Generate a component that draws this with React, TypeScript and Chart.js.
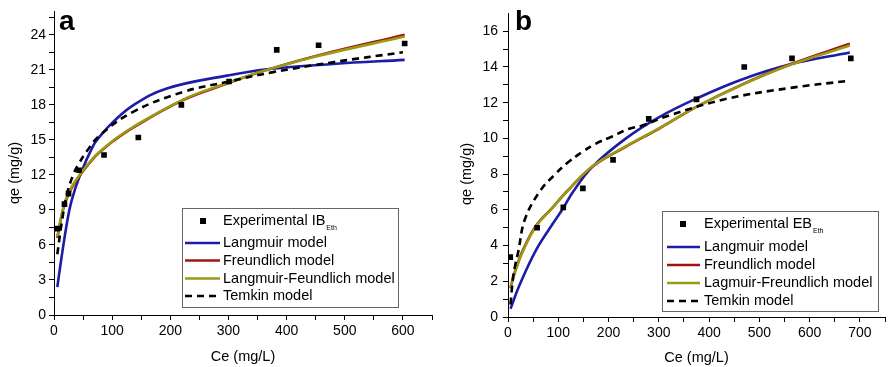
import React, { useEffect, useRef } from "react";
import { Chart, registerables } from "chart.js";
Chart.register(...registerables);

const FONT = "'Liberation Sans', Arial, sans-serif";

// ---------- Panel a data ----------
const aExpX = [6, 18, 25, 43, 86, 145, 219, 301, 383, 455, 603];
const aExpY = [7.4, 9.5, 10.4, 12.4, 13.7, 15.2, 18.0, 20.0, 22.7, 23.1, 23.25];
const aLangX = [5.7, 13, 22, 30, 45, 67.5, 79, 100, 136, 194, 297, 366, 480, 603];
const aLangY = [2.4, 4.95, 7.8, 9.76, 12.0, 14.5, 15.3, 16.45, 17.95, 19.4, 20.5, 21.05, 21.5, 21.85];
const aFreuX = [5.7, 16, 27.5, 45, 67.5, 79, 102, 136, 222, 297, 354, 452, 603];
const aFreuY = [6.6, 9.1, 10.6, 12.0, 13.4, 13.95, 14.9, 16.05, 18.4, 19.8, 20.8, 22.2, 24.0];
const aLFX = [5.7, 16, 27.5, 45, 67.5, 79, 102, 136, 222, 297, 354, 452, 603];
const aLFY = [6.7, 9.2, 10.7, 12.05, 13.45, 14.0, 14.95, 16.1, 18.45, 19.85, 20.8, 22.15, 23.85];
const aTemX = [5.7, 13, 22, 33, 42, 56, 79, 136, 222, 297, 377, 480, 600];
const aTemY = [5.2, 7.8, 10.3, 12.0, 12.9, 14.0, 15.4, 17.4, 19.1, 19.95, 20.8, 21.65, 22.5];
const aXTicks = [0, 50, 100, 150, 200, 250, 300, 350, 400, 450, 500, 550, 600, 650];
const aXLabels = [0, 100, 200, 300, 400, 500, 600];
const aYTicks = [0, 1.5, 3, 4.5, 6, 7.5, 9, 10.5, 12, 13.5, 15, 16.5, 18, 19.5, 21, 22.5, 24, 25.5];
const aYLabels = [0, 3, 6, 9, 12, 15, 18, 21, 24];

// ---------- Panel b data ----------
const bExpX = [4.5, 58, 110, 149, 209, 280, 375, 470, 565, 682];
const bExpY = [3.35, 5.0, 6.14, 7.2, 8.8, 11.09, 12.19, 14.0, 14.48, 14.48];
const bLangX = [5, 23.6, 56, 89, 110, 128.5, 168.5, 234, 300, 378.5, 464, 562, 680];
const bLangY = [0.46, 1.83, 3.76, 5.22, 6.1, 6.97, 8.43, 9.99, 11.18, 12.28, 13.29, 14.15, 14.81];
const bFreuX = [5, 14, 30, 56, 89, 115, 168.5, 234, 300, 378.5, 464, 562, 680];
const bFreuY = [1.65, 2.57, 3.76, 5.13, 6.14, 6.97, 8.43, 9.53, 10.54, 11.82, 13.0, 14.15, 15.3];
const bLFX = [5, 14, 30, 56, 89, 115, 168.5, 234, 300, 378.5, 464, 562, 680];
const bLFY = [1.6, 2.5, 3.7, 5.08, 6.12, 6.97, 8.45, 9.55, 10.56, 11.82, 12.98, 14.12, 15.2];
const bTemX = [5, 10, 15, 20, 34, 64, 93, 119, 149, 175, 205, 241, 267, 319, 431, 562, 680];
const bTemY = [0.7, 2.2, 3.0, 3.6, 5.5, 7.06, 7.97, 8.65, 9.26, 9.71, 10.08, 10.54, 10.72, 11.27, 12.19, 12.83, 13.23];
const bXTicks = [0, 50, 100, 150, 200, 250, 300, 350, 400, 450, 500, 550, 600, 650, 700, 750];
const bXLabels = [0, 100, 200, 300, 400, 500, 600, 700];
const bYTicks = [0, 1, 2, 3, 4, 5, 6, 7, 8, 9, 10, 11, 12, 13, 14, 15, 16];
const bYLabels = [0, 2, 4, 6, 8, 10, 12, 14, 16];

const BLUE = "#1c1ca8";
const RED = "#9e1414";
const OLIVE = "#9a9a14";
const DASH = [7, 5];

const zip = (xs: number[], ys: number[]) => xs.map((x, i) => ({ x, y: ys[i] }));

type PanelCfg = {
  letter: string;
  letterX: number;
  expLabel: string;
  lfLabel: string;
  exp: [number[], number[]];
  lang: [number[], number[]];
  freu: [number[], number[]];
  lf: [number[], number[]];
  tem: [number[], number[]];
  xTicks: number[];
  xLabels: number[];
  yTicks: number[];
  yLabels: number[];
  xMax: number;
  yMax: number;
  yAxisWidth: number;
  xAxisHeight: number;
  padding: { left: number; right: number; top: number; bottom: number };
  yTickPad: number;
  yTitleX: number;
  yTitleY: number;
  xTitleY: number;
  legend: { x: number; y: number; w: number; h: number; rows: number[]; lineX0: number; lineX1: number; textX: number; markX: number };
};

const makeOverlay = (cfg: PanelCfg) => ({
  id: "overlay" + cfg.letter,
  afterDraw(chart: any) {
    const ctx = chart.ctx as CanvasRenderingContext2D;
    const ca = chart.chartArea;
    ctx.save();
    ctx.fillStyle = "#000";
    ctx.font = `bold 28px ${FONT}`;
    ctx.textAlign = "left";
    ctx.textBaseline = "alphabetic";
    ctx.fillText(cfg.letter, cfg.letterX, 30);
    ctx.font = `14.5px ${FONT}`;
    ctx.textAlign = "center";
    ctx.textBaseline = "middle";
    ctx.fillText("Ce (mg/L)", (ca.left + ca.right) / 2, cfg.xTitleY);
    ctx.save();
    ctx.translate(cfg.yTitleX, cfg.yTitleY);
    ctx.rotate(-Math.PI / 2);
    ctx.fillText("qe (mg/g)", 0, 0);
    ctx.restore();
    const L = cfg.legend;
    ctx.fillStyle = "#fff";
    ctx.fillRect(L.x, L.y, L.w, L.h);
    ctx.strokeStyle = "#666";
    ctx.lineWidth = 1;
    ctx.strokeRect(L.x + 0.5, L.y + 0.5, L.w, L.h);
    const items = [
      { kind: "point", label: cfg.expLabel },
      { kind: "line", color: BLUE, label: "Langmuir model" },
      { kind: "line", color: RED, label: "Freundlich model" },
      { kind: "line", color: OLIVE, label: cfg.lfLabel },
      { kind: "dash", color: "#000", label: "Temkin model" },
    ];
    items.forEach((it, i) => {
      const y = L.rows[i];
      if (it.kind === "point") {
        ctx.fillStyle = "#000";
        ctx.fillRect(L.markX - 3, y - 3, 6, 6);
      } else {
        ctx.strokeStyle = it.color as string;
        ctx.lineWidth = 2.6;
        ctx.setLineDash(it.kind === "dash" ? DASH : []);
        ctx.beginPath();
        ctx.moveTo(L.lineX0, y);
        ctx.lineTo(L.lineX1, y);
        ctx.stroke();
        ctx.setLineDash([]);
      }
      ctx.fillStyle = "#000";
      ctx.font = `14.5px ${FONT}`;
      ctx.textAlign = "left";
      ctx.textBaseline = "middle";
      ctx.fillText(it.label, L.textX, y);
      if (it.kind === "point") {
        const w = ctx.measureText(it.label).width;
        ctx.font = `7px ${FONT}`;
        ctx.fillText("Eth", L.textX + w + 1, y + 7);
      }
    });
    ctx.restore();
  },
});

function Panel({ cfg, left, width }: { cfg: PanelCfg; left: number; width: number }) {
  const ref = useRef<HTMLCanvasElement | null>(null);
  useEffect(() => {
    if (!ref.current) return;
    const lineDs = (label: string, data: any, color: string, dash: number[] = []) => ({
      type: "line" as const,
      label,
      data,
      borderColor: color,
      backgroundColor: color,
      borderWidth: 2.6,
      borderDash: dash,
      pointRadius: 0,
      fill: false,
      tension: 0.4,
      showLine: true,
    });
    const tickFont = { family: FONT, size: 14 };
    const chart = new Chart(ref.current, {
      type: "scatter",
      data: {
        datasets: [
          {
            type: "scatter",
            label: cfg.expLabel,
            data: zip(cfg.exp[0], cfg.exp[1]),
            pointStyle: "rect",
            pointRadius: 4,
            pointBackgroundColor: "#000",
            pointBorderColor: "#000",
            pointBorderWidth: 0,
          } as any,
          lineDs("Temkin model", zip(cfg.tem[0], cfg.tem[1]), "#000", DASH),
          lineDs(cfg.lfLabel, zip(cfg.lf[0], cfg.lf[1]), OLIVE),
          lineDs("Freundlich model", zip(cfg.freu[0], cfg.freu[1]), RED),
          lineDs("Langmuir model", zip(cfg.lang[0], cfg.lang[1]), BLUE),
        ],
      },
      options: {
        responsive: false,
        animation: false,
        layout: { padding: cfg.padding },
        plugins: { legend: { display: false }, tooltip: { enabled: false } },
        scales: {
          x: {
            type: "linear",
            min: 0,
            max: cfg.xMax,
            afterBuildTicks: (s: any) => {
              s.ticks = cfg.xTicks.map((v) => ({ value: v }));
            },
            afterFit: (s: any) => {
              s.height = cfg.xAxisHeight;
            },
            ticks: {
              autoSkip: false,
              maxRotation: 0,
              color: "#000",
              font: tickFont,
              padding: 3,
              callback: (v: any) => (cfg.xLabels.includes(Number(v)) ? String(v) : ""),
            },
            grid: { drawOnChartArea: false, drawTicks: true, tickLength: 5, color: "#000", lineWidth: 1 },
            border: { display: true, color: "#000", width: 1 },
          },
          y: {
            type: "linear",
            min: 0,
            max: cfg.yMax,
            afterBuildTicks: (s: any) => {
              s.ticks = cfg.yTicks.map((v) => ({ value: v }));
            },
            afterFit: (s: any) => {
              s.width = cfg.yAxisWidth;
            },
            ticks: {
              autoSkip: false,
              color: "#000",
              font: tickFont,
              padding: cfg.yTickPad,
              callback: (v: any) => (cfg.yLabels.some((l) => Math.abs(l - Number(v)) < 1e-6) ? String(v) : ""),
            },
            grid: { drawOnChartArea: false, drawTicks: true, tickLength: 5, color: "#000", lineWidth: 1 },
            border: { display: true, color: "#000", width: 1 },
          },
        },
      } as any,
      plugins: [makeOverlay(cfg)],
    });
    return () => chart.destroy();
  }, [cfg]);
  return (
    <canvas
      ref={ref}
      width={width}
      height={367}
      style={{ position: "absolute", left, top: 0, width, height: 367, display: "block" }}
    />
  );
}

const cfgA: PanelCfg = {
  letter: "a",
  letterX: 59,
  expLabel: "Experimental IB",
  lfLabel: "Langmuir-Feundlich model",
  exp: [aExpX, aExpY],
  lang: [aLangX, aLangY],
  freu: [aFreuX, aFreuY],
  lf: [aLFX, aLFY],
  tem: [aTemX, aTemY],
  xTicks: aXTicks,
  xLabels: aXLabels,
  yTicks: aYTicks,
  yLabels: aYLabels,
  xMax: 650,
  yMax: 26,
  yAxisWidth: 54,
  xAxisHeight: 52,
  padding: { left: 0, right: 13, top: 9, bottom: 0 },
  yTickPad: 3,
  yTitleX: 15,
  yTitleY: 173,
  xTitleY: 357,
  legend: { x: 182, y: 208, w: 216, h: 99, rows: [221, 243, 260.5, 278.5, 296], lineX0: 185, lineX1: 220, textX: 223, markX: 203 },
};

const cfgB: PanelCfg = {
  letter: "b",
  letterX: 70,
  expLabel: "Experimental EB",
  lfLabel: "Lagmuir-Freundlich model",
  exp: [bExpX, bExpY],
  lang: [bLangX, bLangY],
  freu: [bFreuX, bFreuY],
  lf: [bLFX, bLFY],
  tem: [bTemX, bTemY],
  xTicks: bXTicks,
  xLabels: bXLabels,
  yTicks: bYTicks,
  yLabels: bYLabels,
  xMax: 750,
  yMax: 17,
  yAxisWidth: 63,
  xAxisHeight: 50,
  padding: { left: 0, right: 1, top: 7, bottom: 0 },
  yTickPad: 5,
  yTitleX: 22,
  yTitleY: 174,
  xTitleY: 358,
  legend: { x: 217, y: 211, w: 216, h: 100, rows: [224, 247, 265, 283, 301], lineX0: 222, lineX1: 255, textX: 259, markX: 238 },
};

export default function App() {
  return (
    <div style={{ position: "absolute", left: 0, top: 0, width: 889, height: 367, background: "#fff" }}>
      <Panel cfg={cfgA} left={0} width={445} />
      <Panel cfg={cfgB} left={445} width={444} />
    </div>
  );
}
